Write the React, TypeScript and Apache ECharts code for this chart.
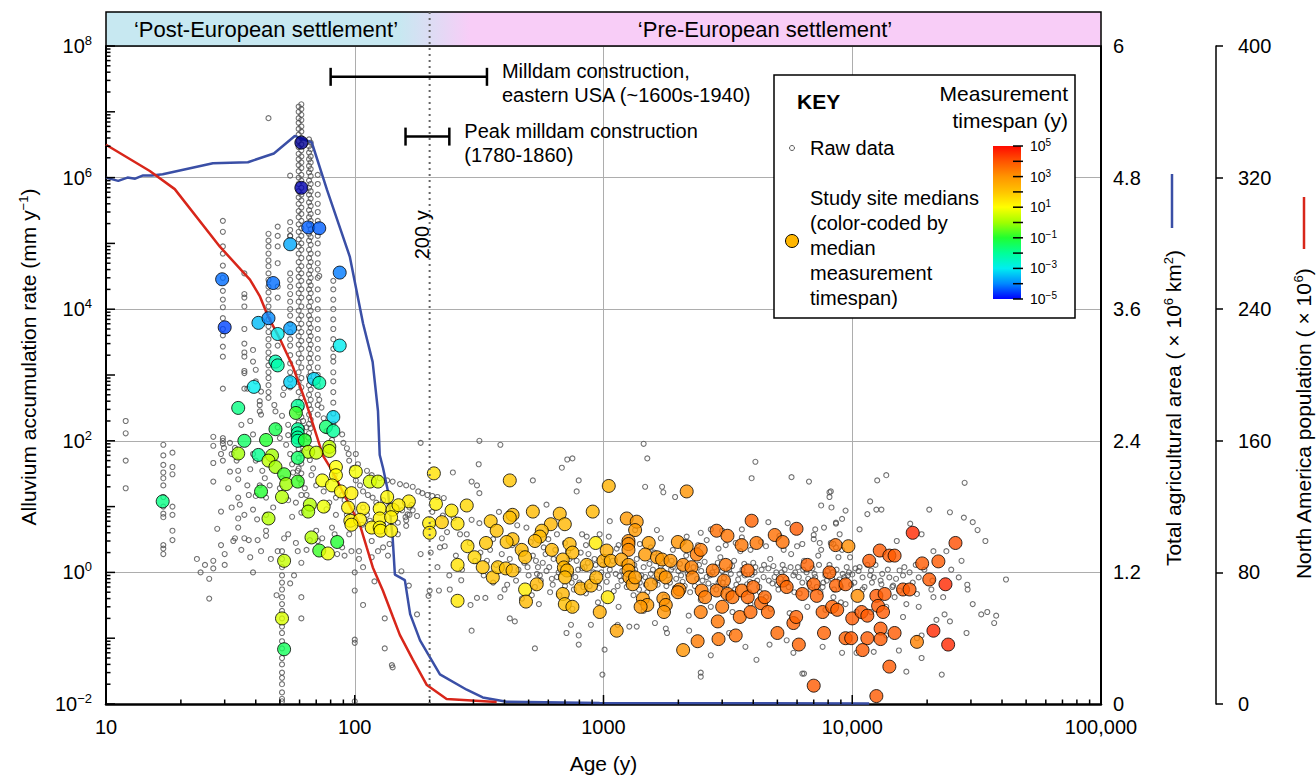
import React, { useEffect, useRef } from 'react';
import * as echarts from 'echarts';

const FONT = "'Liberation Sans', Arial, Helvetica, sans-serif";

// ---------------- axis ticks / labels ----------------
const ageTickValues = [10, 100, 1000, 10000, 100000];
const ageTickLabels = ['10', '100', '1000', '10,000', '100,000'];
const rateLabelExponents = [-2, 0, 2, 4, 6, 8];
const areaTickValues = [0, 1.2, 2.4, 3.6, 4.8, 6];
const populationTickValues = [0, 80, 160, 240, 320, 400];
const timespanLabelExponents = [5, 3, 1, -1, -3, -5];

// ---------------- lines ----------------
const areaAge = [10, 11.2, 12.2, 13.1, 14.1, 15.3, 16.9, 26.9, 37.2, 47.3, 57.4, 67.2, 77.3, 95.5, 108, 118, 124, 126, 130, 136, 142, 145, 159, 167, 183, 220, 282, 327, 408, 965, 11700];
const areaValue = [4.8, 4.77, 4.8, 4.79, 4.82, 4.82, 4.83, 4.93, 4.94, 5.02, 5.18, 5.12, 4.69, 4.08, 3.47, 3.12, 2.67, 2.27, 2.15, 1.94, 1.52, 1.18, 1.13, 0.82, 0.58, 0.27, 0.13, 0.06, 0.02, 0.01, 0.005];
const popAge = [10, 15, 18.9, 28.7, 37.9, 41.5, 44.7, 50, 56.4, 64.1, 70.3, 74.5, 81, 93, 104.8, 111.8, 118.2, 129.7, 142.3, 151.8, 171.2, 194.9, 234, 372];
const popValue = [340, 324, 313, 278, 258, 248, 236, 222, 205, 182, 163, 151, 142, 124, 109, 95, 83, 69, 53, 42, 27, 11.5, 3, 1.2];

// ---------------- annotations ----------------
const milldamFrom = [80, 160];
const milldamTo = [340, 240];
const milldamRate = [3.4e7, 4.2e6];
const milldamLabels = ['Milldam construction,\neastern USA (~1600s-1940)', 'Peak milldam construction\n(1780-1860)'];
const refAge = 200;
const refLabel = '200 y';
const refLabelRate = 1.35e5;

// ---------------- raw data: vertical stacks (age, rates) ----------------
const rawColumns: [number, number[]][] = [
  [12, [200, 130, 50, 19]],
  [17, [87, 60, 43, 33, 27, 21, 14, 10, 7.8, 6.9, 2.6, 2.3, 1.9]],
  [18.5, [66, 40, 31, 10, 7.5, 4.3, 3.1]],
  [29.5, [2.2e5, 1.5e5, 9e4, 7e4, 4.6e4, 3e4, 1.9e4, 1.4e4, 1.07e4, 7.3e3, 5e3, 4e3, 2.7e3, 1.9e3, 620, 110, 90, 50]],
  [36, [3.5e4, 1.7e4, 1.5e4, 1.1e4, 5e3, 3e3, 1.07e3, 620]],
  [45, [1.4e5, 1.1e5, 9e4, 7e4, 5.5e4, 4.5e4, 3.5e4, 2.8e4, 2.2e4, 1.8e4, 1.4e4, 1.1e4, 9e3, 7e3, 5.5e3, 4.5e3, 3.5e3, 2.8e3, 2.2e3, 1.8e3, 1.4e3, 1.1e3, 900, 700, 550, 450]],
  [49, [1.8e5, 1.3e5, 9e4, 5e4, 2.2e4, 1.5e4, 2.8e3]],
  [51, [2.1, 1.6, 1.2, 0.9, 0.7, 0.55, 0.42, 0.33, 0.26, 0.2, 0.15, 0.12, 0.09, 0.07, 0.05, 0.04, 0.03, 0.025, 0.02, 0.015, 0.012, 0.011]],
  [55, [2.1e5, 1.6e5, 1.3e5, 3.5e4, 2.8e4, 2.2e4, 1.7e4, 1.3e4, 1e4, 8e3, 6e3, 4.5e3, 3.5e3, 2.8e3, 2e3, 1.5e3, 1.1e3, 850, 650]],
  [59.5, [1.2e7, 1e7, 8e6, 6.8e6, 5.5e6, 4.5e6, 3.6e6, 2.9e6, 2.3e6, 1.9e6, 1.55e6, 1.25e6, 1e6, 8e5, 6.2e5, 5e5, 4e5, 3.1e5, 2.5e5, 1.95e5, 1.5e5, 1.15e5, 9e4, 7e4, 5.2e4, 4e4, 3.1e4, 2.3e4, 1.75e4, 1.3e4, 9.5e3, 7e3, 5.2e3, 3.9e3, 2.9e3, 2.1e3, 1.55e3, 1.1e3, 780, 550, 380, 270, 190, 140, 105, 75, 55, 38, 27]],
  [61, [1.3e7, 1.1e7, 9e6, 7.5e6, 6e6, 5e6, 4e6, 3.2e6, 2.6e6, 2.1e6, 1.7e6, 1.4e6, 1.1e6, 9e5, 7e5, 5.5e5, 4.5e5, 3.5e5, 2.8e5, 2.2e5, 1.7e5, 1.3e5, 1e5, 8e4, 6e4, 4.5e4, 3.5e4, 2.7e4, 2e4, 1.5e4, 1.1e4, 8e3, 6e3, 4.5e3, 3.3e3, 2.5e3, 1.8e3, 1.3e3, 900, 650, 450, 320, 230, 160, 120, 90, 65, 45, 32, 22]],
  [65.5, [3.8e6, 3e6, 2.4e6, 1.9e6, 1.5e6, 1.2e6, 9e5, 7e5, 5.5e5, 4.2e5, 3.2e5, 2.5e5, 1.9e5, 1.4e5, 1.1e5, 8e4, 6e4, 4.5e4, 3.4e4, 2.6e4, 2e4, 1.5e4, 1.1e4, 8e3, 6e3, 4.5e3, 3.4e3, 2.5e3, 1.8e3, 1.3e3, 950, 700, 500, 350, 250, 180, 130]],
  [66.5, [3.4e6, 2.7e6, 2.1e6, 1.7e6, 1.35e6, 1.05e6, 8e5, 6.2e5, 4.8e5, 3.7e5, 2.8e5, 2.2e5, 1.65e5, 1.25e5, 9.5e4, 7e4, 5.2e4, 3.9e4, 3e4, 2.3e4, 1.75e4, 1.3e4, 9.5e3, 7e3, 5.2e3, 3.9e3, 2.9e3, 2.1e3, 1.55e3, 1.1e3, 820, 600, 420, 300, 210, 155]],
  [71, [1.1e6, 8e5, 5.5e5, 4e5, 3e5, 2.2e5, 1.3e5, 1e5, 7e4, 5e4, 4e4, 3e4, 2e4, 1.4e4, 1e4, 7e3, 5e3, 3.5e3, 2.5e3, 1.8e3, 1.3e3, 1e3, 700, 500, 350, 250]],
  [82, [2.7e4, 2e4, 1.4e4, 1e4, 7e3, 5e3, 3.5e3, 2.5e3, 1.9e3, 1.6e3, 1.1e3, 800, 550, 380, 260, 180]],
  [100, [1.0, 0.53, 0.095, 0.085, 0.011]],
];

// ---------------- raw data: scattered points (age, rate) ----------------
const rawYoung: [number, number][] = [
  [23.2, 1.6], [24, 1.0], [25, 1.3], [26, 0.8], [26, 0.4], [27, 1.5], [27, 1.15], [28, 4.6], [29, 2.6], [30, 1.9], [30, 1.3], [29, 8.4],
  [32.5, 3.0], [33, 3.3], [34, 4.8], [34, 6.6], [35, 2.2], [36, 3.3], [37.5, 3.1], [38, 1.7], [39, 1.0], [40.7, 3.1], [42, 2.1], [44, 4.3],
  [44, 3.6], [46, 1.6], [49, 2.1], [48.5, 0.45], [55, 0.68], [57, 0.9], [61, 0.42], [61, 0.2], [54, 3.8], [52, 3.3], [58, 2.8], [59, 2.1],
  [61, 1.4], [64, 2.2], [66, 3.1], [70, 4.3], [71, 3.0], [74, 3.3], [81, 4.8], [83, 3.8], [85, 1.9], [89, 2.4], [91, 1.8], [95, 3.8],
  [97, 2.1], [104, 1.6], [104, 2.1], [108, 1.2], [108, 0.32], [120, 0.73], [132, 0.2], [132, 0.07], [141, 0.039], [154, 1.04], [165, 0.63],
  [178, 0.23], [184, 1.9], [117, 3.0], [117, 1.7], [124, 2.1], [130, 2.4], [138, 2.7], [136, 1.8], [149, 3.8], [161, 6.2], [160, 6.9],
  [163, 7.6], [171, 8.8], [169, 10.6], [220, 2.4], [142, 0.036],
  [27, 115], [27, 84], [27, 46], [27, 24], [29.5, 100], [29, 63], [34, 35], [34, 26], [35, 175], [36, 1900], [36, 1150], [39, 2400],
  [39, 1600], [40, 1200], [40, 800], [42, 560], [41.5, 350], [42, 250], [38, 200], [39, 125], [39, 63], [38, 37], [37, 21], [37.5, 15],
  [39, 9], [40, 50], [42.5, 35], [44, 13.7], [47, 9.7], [49, 160], [50, 110], [53, 87], [55, 63], [56, 44], [56.5, 33], [54, 12.5], [56, 7],
  [48, 280], [47.5, 350], [51, 240], [51.5, 500], [52, 630], [54, 175], [54, 122], [62, 200], [64, 160], [65, 112], [64, 78], [66, 51],
  [68, 38], [63, 19], [64, 15], [65, 9.7], [72, 420], [73.5, 320], [75, 220], [77, 140], [81, 103], [89, 125], [90, 93], [93, 77],
  [94.5, 63], [95, 50], [98, 38], [101, 63], [103, 44],
  [112, 35], [117, 30], [126, 27], [135, 25], [142, 24], [152, 22], [161, 21], [171, 20], [180, 17], [187, 16], [196, 15], [205, 14.5],
  [215, 14], [228, 13.5],
  [101, 25], [105, 21], [108, 17], [113, 15], [118, 13.7], [122, 11.5], [130, 12.5], [138, 10.7], [147, 9.7], [155, 8.8], [166, 9.7],
  [166, 7.5], [178, 7.2], [108, 9.7], [112, 7.5], [115, 6.1], [107, 5.3], [130, 5.3], [149, 5.7], [161, 5.1], [91, 12.5], [89, 15],
  [84, 13.7], [79, 11.5], [77, 9.1], [84, 7.5], [93, 7.5], [95, 6.1], [83, 30], [75, 17], [70, 21], [67, 30], [59, 35], [60, 26], [61, 15],
  [58, 11.5], [61, 8.1], [51, 27], [50, 19], [45.5, 21], [43.5, 27], [41.5, 21], [40, 14.5], [44, 7.5], [40.5, 6.4], [36, 7.5], [34.5, 10.7],
  [32, 9.7], [31, 19], [31.5, 34], [33.5, 50], [34, 13.7], [29.8, 78], [31.5, 93], [32, 63], [33, 78],
  [45, 8e6], [55, 1.07e6], [55, 1.3e5], [72, 3.2e4], [36, 2200], [37, 620], [41.5, 400], [41.5, 280],
];

const rawOld: [number, number][] = [
  [184, 93], [317, 100], [385, 87], [315, 44], [248, 33], [295, 24], [310, 21], [317, 16], [520, 25], [680, 39], [715, 52], [750, 54],
  [795, 25], [780, 17], [1450, 90], [1500, 54], [1470, 20], [1720, 20], [1740, 16.5], [1940, 14], [4080, 48], [3940, 27], [5700, 28],
  [6700, 24], [7500, 10.4], [8100, 16.5], [8250, 9.7], [8600, 5.7], [9400, 8.7], [1060, 6], [965, 3.8], [5500, 5.6], [7100, 4.5],
  [7700, 4.8], [4600, 5.8], [3600, 4.5], [2700, 4.5], [3000, 4.3], [2460, 4], [2160, 3.5], [1640, 4.4], [1340, 4.4], [856, 3.5], [650, 3.8],
  [820, 3.8], [490, 4.8], [590, 10.7], [450, 5.2], [380, 8.3], [360, 3.2], [317, 5.6], [295, 6.3], [282, 3.8], [265, 3.8], [235, 4.1],
  [224, 3.3], [205, 8.3], [226, 7.3], [250, 6.7], [202, 2], [200, 0.53], [198, 0.44], [218, 0.53], [241, 0.55], [268, 0.76], [292, 0.32],
  [310, 0.41], [295, 0.13], [335, 0.41], [385, 0.42], [420, 0.2], [440, 0.18], [530, 0.07], [710, 0.12], [740, 0.16], [795, 0.11],
  [795, 0.08], [890, 0.16], [990, 0.028], [1010, 0.067], [1140, 0.16], [1270, 0.15], [1360, 0.15], [1610, 0.17], [1780, 0.14], [1800, 0.12],
  [2210, 0.13], [2460, 0.03], [2460, 0.026], [2700, 0.055], [3200, 0.12], [3720, 0.074], [4120, 0.047], [4650, 0.08], [5450, 0.093],
  [5800, 0.06], [6400, 0.029], [7600, 0.074], [9100, 0.06],
  [480, 1.4], [500, 0.9], [520, 1.8], [530, 0.6], [545, 1.2], [560, 0.75], [575, 2.4], [590, 1.05], [610, 0.5], [630, 1.6], [650, 0.85],
  [665, 0.45], [680, 1.3], [700, 0.62], [720, 2.1], [740, 0.95], [760, 0.55], [780, 1.5], [800, 0.7], [820, 1.15], [850, 0.48], [870, 1.9],
  [900, 0.8], [930, 1.3], [960, 0.58], [1000, 1.7], [1030, 0.72], [1060, 1.1], [1100, 0.52], [1130, 2.3], [1160, 0.88], [1200, 1.35],
  [1240, 0.6], [1280, 1.0], [1320, 0.45], [1360, 1.6], [1400, 0.7], [1450, 1.2], [1500, 0.5], [1550, 0.95], [1600, 2.0], [1650, 0.65],
  [1700, 1.25], [1760, 0.42], [1820, 0.9], [1880, 1.5], [1940, 0.58], [2000, 1.05], [2080, 0.72], [2150, 1.8], [2230, 0.5], [2300, 1.2],
  [2380, 0.8], [2460, 0.38], [2550, 1.45], [2640, 0.68], [2740, 1.0], [2840, 0.55], [2950, 1.7], [3050, 0.82], [3170, 0.46], [3290, 1.25],
  [3420, 0.65], [3550, 2.1], [3700, 0.9], [3850, 0.5], [4000, 1.4], [4150, 0.75], [4320, 1.1], [4500, 0.42], [4680, 1.6], [4870, 0.85],
  [5050, 0.55], [5250, 1.3], [5460, 0.7], [5680, 1.9], [5900, 1.0], [6150, 0.48], [6400, 1.5], [6650, 0.8], [6920, 1.15], [7200, 0.6],
  [7500, 2.2], [7800, 0.9], [8100, 1.3], [8450, 0.55], [8800, 1.7], [9150, 0.95], [9500, 1.2], [9900, 0.65],
  [600, 3.2], [700, 2.8], [850, 2.6], [1050, 3.5], [1250, 3.0], [1400, 2.7], [1700, 3.3], [2100, 2.9], [2600, 3.1], [3100, 2.6], [3600, 3.4],
  [4300, 2.9], [5100, 3.6], [6000, 2.5], [7000, 3.2], [8200, 2.8], [550, 0.33], [750, 0.28], [950, 0.35], [1150, 0.3], [1450, 0.26],
  [1800, 0.36], [2200, 0.22], [2700, 0.3], [3300, 0.25], [3900, 0.33], [4700, 0.28], [5600, 0.24], [6600, 0.3], [7800, 0.27], [9000, 0.35],
  [1120, 0.95], [1180, 0.75], [1220, 1.2], [1300, 0.85], [1330, 1.3], [1420, 0.9], [1480, 0.65], [1580, 1.1], [1630, 0.8], [1720, 0.95],
  [1850, 0.7], [1900, 1.2], [2050, 0.9], [2120, 0.62], [2250, 1.0], [2420, 1.3], [2500, 0.75], [2680, 0.9], [2800, 1.2], [2900, 0.7],
  [3000, 1.05], [3120, 0.6], [3250, 0.95], [3350, 1.5], [3480, 0.78], [3620, 1.1], [3780, 0.66], [3950, 0.92], [4080, 1.2], [4230, 0.6],
  [4400, 0.85], [4600, 1.15], [4780, 0.68], [4950, 1.0], [5150, 0.8], [5350, 1.1], [5550, 0.6], [5800, 0.9], [6050, 1.2], [6300, 0.7],
  [6550, 1.0], [6800, 0.55], [7050, 0.95], [7350, 1.3], [7650, 0.7], [7950, 1.05], [8300, 0.8], [8650, 1.1], [9000, 0.6], [9300, 0.85],
  [9700, 1.0], [10200, 0.7], [10600, 1.05], [11200, 0.6], [11800, 0.9], [12400, 1.3], [13000, 0.75], [13900, 1.1], [15000, 0.8],
  [16200, 1.2], [17500, 0.7], [19500, 1.1],
  [320, 2.0], [340, 1.5], [360, 0.7], [390, 1.9], [410, 0.65], [430, 2.6], [455, 1.1], [470, 0.4], [510, 2.9], [540, 0.95], [570, 1.4],
  [620, 0.8], [640, 2.2], [690, 1.0], [730, 1.6], [770, 0.85], [810, 2.0], [840, 1.2], [880, 0.62], [920, 1.6], [980, 1.0],
  [205, 5.5], [215, 1.2], [230, 2.5], [255, 1.8], [270, 1.1], [290, 2.8], [305, 1.5], [240, 0.9],
  [330, 0.9], [350, 2.2], [370, 1.3], [400, 0.55], [420, 1.6], [445, 0.75], [465, 2.0], [495, 1.2], [515, 0.45], [535, 1.5], [555, 0.9],
  [585, 1.9], [605, 1.2], [625, 0.65], [660, 1.0], [710, 1.3], [745, 0.7], [790, 1.1], [830, 0.6], [865, 1.4], [910, 1.0], [950, 0.72],
  [990, 1.3], [1040, 0.9], [1090, 1.5], [1140, 0.62], [1190, 1.05], [1260, 0.78], [1340, 1.1], [1390, 0.55], [1470, 0.85], [1530, 1.35],
  [1610, 0.72], [1680, 1.05], [1790, 0.62], [1870, 1.1], [1960, 0.8], [2030, 1.35], [2180, 0.95], [2330, 0.62], [2470, 1.05], [2600, 0.85],
  [2760, 0.62], [2880, 1.4], [3020, 0.7], [3200, 1.1], [3380, 0.55], [3520, 0.95], [3680, 1.35], [3880, 0.72], [4050, 1.0], [4250, 0.5],
  [4420, 1.3], [4620, 0.75], [4820, 1.25], [5000, 0.65], [5200, 1.0], [5420, 0.8], [5650, 1.2], [5850, 0.5], [6100, 0.85], [6350, 1.1],
  [6700, 0.68], [7100, 0.85], [7450, 0.5], [7900, 0.75], [8350, 1.0], [8900, 0.78], [9600, 0.9], [10300, 1.15], [11000, 0.55], [12000, 0.7],
  [13200, 0.95], [14500, 0.6], [16000, 0.9], [18000, 1.3], [21000, 0.75], [25000, 1.1], [29000, 0.65],
  [1150, 2.6], [1550, 2.4], [1900, 2.2], [2400, 2.6], [2900, 2.3], [3400, 2.8], [3900, 2.2], [4500, 2.5], [5300, 2.2], [6300, 2.7],
  [7300, 1.8], [8600, 2.4],
  [8200, 17], [8100, 14], [9100, 6.5], [8600, 5.5], [12600, 25], [13700, 30], [11800, 12], [12500, 9], [13100, 9], [11500, 7.7],
  [10700, 4.5], [15100, 3], [17100, 5.5], [19000, 3.8], [20400, 9], [24700, 8.2], [28300, 23], [28100, 6.8], [30500, 5.8], [31900, 4.4],
  [34300, 3], [27500, 1.5], [23900, 2.1], [21200, 2.1], [26800, 0.84], [29100, 0.55], [30500, 0.33], [33000, 0.23], [34900, 0.25],
  [37900, 0.22], [37200, 0.17], [41500, 0.78], [28800, 0.12], [22900, 0.028], [19000, 0.05], [16500, 0.031], [15400, 0.065], [13700, 0.11],
  [12200, 0.062], [10400, 0.06], [6300, 0.029], [21200, 0.42], [23200, 0.42], [20800, 0.55], [18500, 0.84], [17000, 1.0], [15500, 1.07],
  [14100, 0.84], [14600, 0.63], [15500, 0.53], [16500, 0.33], [16000, 0.21], [13100, 0.66], [11900, 1.07], [11500, 1.3], [10700, 1.2],
  [10000, 0.93], [11000, 0.84], [12200, 0.84], [9800, 1.7], [9100, 2.2], [8400, 2.7], [7400, 2.8], [7000, 3.7], [8900, 3.8], [7600, 0.6],
  [8400, 0.42], [9400, 0.33], [10400, 0.25], [11900, 0.25], [13700, 0.3], [14800, 0.42], [18200, 0.47], [18500, 0.3], [23500, 0.23],
  [24700, 0.18], [21800, 0.19], [18200, 0.1], [19000, 0.11],
];

// ---------------- study site medians (age, rate, log10 timespan) ----------------
const medians: [number, number, number][] = [
  [61, 3.4e6, -5.8], [61, 7e5, -5.6], [65, 1.75e5, -4.3], [72, 1.7e5, -4.3], [55, 9.7e4, -3.7], [87, 3.6e4, -4.1], [29.3, 2.85e4, -4.2],
  [47, 2.5e4, -4.2], [30, 5.3e3, -4.5], [41, 6.2e3, -3.5], [45, 7.3e3, -4.0], [49, 4.2e3, -3.0], [55, 5.1e3, -3.8], [87, 2.8e3, -3.0],
  [48, 1.6e3, -2.3], [49, 1.4e3, -2.2], [39.3, 660, -3.0], [55, 780, -3.3], [68.5, 870, -3.3], [72, 760, -2.2], [34, 316, -1.8],
  [59, 340, -2.0], [58, 265, -0.8], [82, 230, -3.2], [48, 150, -1.3], [76.6, 163, -1.6], [82, 141, -2.0], [59, 150, -2.0], [59, 130, -2.0],
  [59, 112, -2.0], [59, 100, -2.0], [63, 102, -1.0], [36, 100, -1.5], [44, 103, -1.0], [79, 81, 0.3], [79, 70, 0.5], [34, 64, 0.0],
  [41, 61, -1.9], [46.5, 60, 0.0], [65, 68, 0.2], [70, 66, 0.4], [59, 55, -1.5], [45, 50, 0.3], [48, 40, 0.0], [84, 40, 1.0], [101, 34, 0.9],
  [84, 30, 1.0], [52, 31, -0.8], [115, 24, 0.6], [124, 24, 0.6], [53, 22, 0.0], [59, 24, -0.8], [74, 25, 0.9], [81, 21, 0.9], [88, 17, 1.1],
  [97, 16, 1.2], [42, 17, -1.0], [51, 14, 0.2], [135, 14, 1.1], [165, 12, 1.3], [66, 10.7, 0.2], [65, 8.4, 0.1], [75, 10, 0.8],
  [94, 9.7, 1.2], [108, 9.3, 1.2], [126, 9.3, 1.1], [142, 9, 1.2], [150, 10.5, 1.3], [45, 6.6, 0.2], [96, 6.1, 1.2], [105, 6.3, 1.2],
  [126, 6.6, 1.2], [140, 6.9, 1.2], [16.9, 12, -1.8], [97, 5.3, 1.2], [117, 4.8, 1.2], [126, 4.8, 1.1], [127, 4.3, 1.2], [140, 4.3, 1.2],
  [67, 3.4, 0.2], [72, 2.15, -0.8], [78, 1.94, 0.8], [85, 2.9, -1.0], [52, 1.5, 0.4], [51, 0.2, 0.6], [52, 0.068, -1.4],
  [199, 5.6, 1.3], [200, 4.0, 1.4], [212, 11, 1.3], [208, 32, 1.5], [224, 5.8, 1.9], [420, 25, 2.0], [1050, 20.6, 2.4], [2160, 17, 3.0],
  [245, 8.7, 1.4], [282, 10.4, 1.7], [259, 5.5, 1.5], [520, 8.4, 2.2], [667, 7.8, 2.3], [905, 8.4, 2.3], [431, 7.5, 2.2], [420, 6.8, 2.1],
  [352, 6, 2.0], [614, 5.4, 2.3], [699, 5.4, 2.3], [565, 4.3, 2.2], [555, 3.5, 2.2], [530, 3.0, 2.3], [1240, 6.6, 2.9], [1360, 5.9, 2.9],
  [1340, 4.4, 2.9], [1260, 3.0, 3.1], [1260, 2.7, 3.1], [1260, 2.2, 3.1], [1520, 2.8, 2.8], [1990, 2.9, 3.0], [2160, 2.5, 3.0],
  [2850, 4.3, 3.6], [3150, 3.6, 3.5], [3940, 6.1, 3.8], [5970, 4.6, 3.9], [4880, 3.7, 3.6], [5250, 2.9, 3.6], [3590, 2.6, 3.5],
  [4120, 2.8, 3.5], [8570, 2.6, 3.6], [930, 2.8, 1.3], [731, 2.7, 2.3], [750, 2.0, 2.3], [620, 2.2, 2.3], [469, 2.2, 2.2], [484, 1.7, 2.2],
  [431, 3.2, 2.2], [408, 2.9, 2.1], [372, 4.3, 2.1], [337, 2.8, 2.0], [284, 2.5, 1.6], [303, 1.7, 1.7], [259, 1.3, 1.5], [327, 1.2, 2.0],
  [359, 0.84, 2.1], [376, 1.2, 2.0], [405, 1.15, 2.1], [431, 1.07, 2.2], [484, 0.55, 1.3], [539, 0.66, 2.3], [488, 0.36, 2.2],
  [259, 0.37, 1.4], [686, 1.57, 2.3], [693, 1.19, 2.3], [714, 1.07, 2.3], [700, 0.84, 2.3], [856, 1.3, 2.4], [809, 0.57, 2.4],
  [891, 0.63, 2.4], [935, 0.84, 2.4], [686, 0.47, 2.3], [699, 0.33, 2.1], [750, 0.3, 2.2], [966, 0.25, 2.5], [1040, 0.42, 1.4],
  [1000, 1.5, 2.5], [1030, 2.15, 2.5], [1070, 1.5, 2.5], [1130, 0.13, 2.7], [1180, 1.57, 2.7], [1260, 1.3, 2.8], [1260, 1.07, 2.8],
  [1270, 0.84, 2.8], [1310, 0.66, 2.8], [1340, 0.84, 2.8], [1470, 1.87, 2.9], [1550, 0.66, 2.9], [1440, 0.4, 2.9], [1500, 0.32, 2.9],
  [1410, 0.3, 2.9], [1640, 1.7, 2.9], [1720, 1.57, 2.9], [1700, 0.93, 2.9], [1780, 0.84, 3.0], [1740, 0.4, 3.0], [1780, 0.32, 3.0],
  [1750, 0.25, 3.0], [1860, 1.5, 3.0], [2020, 0.55, 3.2], [1990, 0.5, 3.2], [2090, 1.3, 3.2], [2090, 0.066, 3.0], [2260, 1.2, 3.3],
  [2280, 0.84, 3.3], [2390, 0.09, 3.4], [2460, 0.25, 3.4], [2370, 1.87, 3.4], [2460, 2.2, 3.4], [2480, 0.53, 3.4], [2560, 0.42, 3.4],
  [2750, 1.07, 3.5], [2850, 0.53, 3.5], [2900, 0.097, 3.5], [2880, 0.18, 3.5], [3000, 0.3, 3.5], [3050, 0.75, 3.5], [3100, 1.3, 3.5],
  [3150, 0.47, 3.5], [3300, 0.42, 3.6], [3400, 0.11, 3.6], [3530, 0.21, 3.6], [3600, 0.53, 3.6], [3800, 1.07, 3.7], [3800, 0.42, 3.7],
  [3900, 0.25, 3.7], [4000, 0.6, 3.7], [4300, 0.34, 3.7], [4450, 0.42, 3.7], [4580, 0.25, 3.7], [5000, 0.12, 3.7], [5250, 0.75, 3.7],
  [5450, 0.6, 3.7], [5800, 0.17, 3.8], [6100, 0.08, 3.8], [5950, 0.21, 3.8], [6300, 0.47, 3.8], [6600, 1.3, 3.8], [7000, 0.019, 3.9],
  [7000, 0.66, 3.8], [7200, 0.44, 3.8], [7600, 0.25, 3.8], [7700, 0.12, 3.8], [8100, 1.0, 3.8], [8300, 0.3, 3.8], [8600, 0.63, 3.8],
  [8700, 0.27, 3.8], [9400, 0.1, 3.8], [9400, 0.66, 3.8], [9650, 2.5, 3.1], [10500, 0.44, 3.1], [12900, 2.15, 3.9], [11700, 1.5, 3.9],
  [14100, 1.8, 3.9], [14800, 1.8, 3.9], [17500, 4.0, 4.6], [26000, 2.8, 4.1], [19100, 1.37, 3.9], [22200, 1.47, 3.9], [20400, 0.78, 3.9],
  [23700, 0.66, 4.6], [16000, 0.55, 3.9], [17000, 0.55, 3.9], [12500, 0.44, 3.9], [13500, 0.47, 3.9], [12700, 0.31, 3.9], [13300, 0.25, 3.9],
  [13000, 0.14, 3.9], [14800, 0.12, 3.9], [13000, 0.097, 3.9], [10000, 0.2, 3.9], [9900, 0.1, 3.9], [11500, 0.1, 3.9], [11000, 0.066, 3.9],
  [14100, 0.037, 3.9], [18200, 0.088, 3.3], [21200, 0.13, 4.6], [24300, 0.08, 4.6], [12500, 0.0132, 3.9], [10900, 0.25, 3.9], [11500, 0.22, 3.9],
];

// ---------------- colour map (log10 timespan -> colour) ----------------
const CMAP: [number, string][] = [
  [-6, '#00007a'], [-5, '#0000ff'], [-4, '#0088ff'], [-3, '#00eef0'], [-2, '#00ff98'], [-1, '#20ff30'],
  [0, '#a0ff00'], [1, '#ffff00'], [2, '#ffc400'], [3, '#ff9400'], [4, '#ff5400'], [5, '#ff0a00'],
];
function hexRgb(h: string) {
  return [parseInt(h.slice(1, 3), 16), parseInt(h.slice(3, 5), 16), parseInt(h.slice(5, 7), 16)];
}
function timespanColor(t: number) {
  if (t <= CMAP[0][0]) return CMAP[0][1];
  if (t >= CMAP[CMAP.length - 1][0]) return CMAP[CMAP.length - 1][1];
  for (let i = 0; i < CMAP.length - 1; i++) {
    const [t0, c0] = CMAP[i];
    const [t1, c1] = CMAP[i + 1];
    if (t >= t0 && t <= t1) {
      const f = (t - t0) / (t1 - t0);
      const a = hexRgb(c0), b = hexRgb(c1);
      const c = a.map((v, k) => Math.round(v + (b[k] - v) * f));
      return `rgb(${c[0]},${c[1]},${c[2]})`;
    }
  }
  return '#000';
}

const supExp = (v: number) => (v < 0 ? '\u2212' + Math.abs(v) : String(v));

function buildOption() {
  const L = Math.log10;
  const rawPoints: number[][] = [];
  rawColumns.forEach(([age, rates]) => rates.forEach((r) => rawPoints.push([age, L(r)])));
  rawYoung.forEach(([a, r]) => rawPoints.push([a, L(r)]));
  rawOld.forEach(([a, r]) => rawPoints.push([a, L(r)]));

  const medianPoints = medians.map(([a, r, t]) => ({ value: [a, L(r)], itemStyle: { color: timespanColor(t) } }));

  // tick marks: [x, y, axis (0 = left, 1 = bottom), major]
  const tickItems: number[][] = [];
  for (let e = rateLabelExponents[0]; e <= rateLabelExponents[rateLabelExponents.length - 1]; e++) {
    tickItems.push([ageTickValues[0], e, 0, 1]);
    if (e < 8) for (let k = 2; k <= 9; k++) tickItems.push([ageTickValues[0], e + L(k), 0, 0]);
  }
  ageTickValues.forEach((v, i) => {
    tickItems.push([v, rateLabelExponents[0], 1, 1]);
    if (i < ageTickValues.length - 1) for (let k = 2; k <= 9; k++) tickItems.push([v * k, rateLabelExponents[0], 1, 0]);
  });

  // colour bar (gradient stops must be in ascending offset order)
  const cbX = 993, cbY = 146, cbW = 28, cbH = 153;
  const cbStops = CMAP.filter((s) => s[0] >= -5)
    .map(([t, c]) => ({ offset: (5 - t) / 10, color: c }))
    .sort((a, b) => a.offset - b.offset);
  const cbGraphics: any[] = [
    { type: 'rect', shape: { x: cbX, y: cbY, width: cbW, height: cbH }, style: { fill: new echarts.graphic.LinearGradient(0, 0, 0, 1, cbStops) }, z: 101 },
  ];
  for (let e = 5; e >= -5; e--) {
    const y = cbY + ((5 - e) / 10) * cbH;
    cbGraphics.push({ type: 'line', shape: { x1: cbX + 20, y1: y, x2: cbX + 30, y2: y }, style: { stroke: '#000', lineWidth: 1.5 }, z: 102 });
  }
  timespanLabelExponents.forEach((e) => {
    const y = cbY + ((5 - e) / 10) * cbH;
    cbGraphics.push({
      type: 'text', x: cbX + 37, y, z: 102,
      style: {
        text: `{b|10}{s|${supExp(e)}}`, align: 'left', verticalAlign: 'middle',
        rich: { b: { fontSize: 14, fontFamily: FONT, fill: '#000' }, s: { fontSize: 10, fontFamily: FONT, fill: '#000', padding: [0, 0, 7, 0] } },
      },
    });
  });

  return {
    animation: false,
    textStyle: { fontFamily: FONT },
    grid: { left: 106, right: 215, top: 46, bottom: 72 },
    xAxis: {
      type: 'log', logBase: 10, min: 10, max: 100000,
      name: 'Age (y)', nameLocation: 'middle', nameGap: 49,
      nameTextStyle: { fontSize: 21, color: '#000', fontFamily: FONT },
      axisLine: { onZero: false, lineStyle: { color: '#000', width: 2.5 } },
      axisTick: { show: false },
      axisLabel: {
        fontSize: 20, color: '#000', margin: 13, fontFamily: FONT,
        formatter: (v: number) => {
          const i = ageTickValues.indexOf(Math.round(v));
          return i >= 0 ? ageTickLabels[i] : '';
        },
      },
      splitLine: { show: true, lineStyle: { color: '#adadad', width: 1 } },
    },
    yAxis: [
      {
        type: 'value', min: -2, max: 8, interval: 2, position: 'left',
        axisLine: { show: true, onZero: false, lineStyle: { color: '#000', width: 2 } },
        axisTick: { show: false },
        axisLabel: {
          margin: 14, color: '#000',
          formatter: (v: number) => `{b|10}{s|${supExp(Math.round(v))}}`,
          rich: { b: { fontSize: 20, fontFamily: FONT, color: '#000' }, s: { fontSize: 13, fontFamily: FONT, color: '#000', padding: [0, 0, 11, 0] } },
        },
        splitLine: { show: true, lineStyle: { color: '#adadad', width: 1 } },
      },
      {
        type: 'value', min: areaTickValues[0], max: areaTickValues[areaTickValues.length - 1], interval: areaTickValues[1], position: 'right',
        axisLine: { show: true, onZero: false, lineStyle: { color: '#000', width: 2 } },
        axisTick: { show: false },
        axisLabel: {
          fontSize: 20, color: '#000', margin: 12, fontFamily: FONT,
          formatter: (v: number) => (Math.abs(v - Math.round(v)) < 1e-6 ? String(Math.round(v)) : v.toFixed(1)),
        },
        splitLine: { show: false },
      },
      {
        type: 'value', min: populationTickValues[0], max: populationTickValues[populationTickValues.length - 1], interval: populationTickValues[1],
        position: 'right', offset: 115,
        axisLine: { show: true, onZero: false, lineStyle: { color: '#000', width: 1.5 } },
        axisTick: { show: true, inside: false, length: 7, lineStyle: { color: '#000', width: 1.5 } },
        axisLabel: { fontSize: 20, color: '#000', margin: 22, fontFamily: FONT },
        splitLine: { show: false },
      },
    ],
    series: [
      {
        type: 'scatter', name: 'Raw data', xAxisIndex: 0, yAxisIndex: 0, data: rawPoints, symbol: 'circle', symbolSize: 5,
        itemStyle: { color: 'rgba(255,255,255,0)', borderColor: '#4d4d4d', borderWidth: 1.1 }, z: 2, silent: true,
      },
      {
        type: 'line', name: 'Total agricultural area', xAxisIndex: 0, yAxisIndex: 1,
        data: areaAge.map((a, i) => [a, areaValue[i]]), symbol: 'none', showSymbol: false,
        lineStyle: { color: '#3a4fa6', width: 2.5 }, z: 3, silent: true,
      },
      {
        type: 'line', name: 'North America population', xAxisIndex: 0, yAxisIndex: 2,
        data: popAge.map((a, i) => [a, popValue[i]]), symbol: 'none', showSymbol: false,
        lineStyle: { color: '#d8261a', width: 2.5 }, z: 3, silent: true,
      },
      {
        type: 'scatter', name: 'Study site medians', xAxisIndex: 0, yAxisIndex: 0, data: medianPoints, symbol: 'circle', symbolSize: 13,
        itemStyle: { borderColor: '#000', borderWidth: 1 }, z: 4, silent: true,
      },
      {
        type: 'custom', name: 'ticks', xAxisIndex: 0, yAxisIndex: 0, data: tickItems, clip: false, silent: true, z: 6,
        encode: { x: 0, y: 1 },
        renderItem: (params: any, api: any) => {
          const p = api.coord([api.value(0), api.value(1)]);
          const len = api.value(3) ? 9 : 4.5;
          const shape = api.value(2) === 0
            ? { x1: p[0], y1: p[1], x2: p[0] + len, y2: p[1] }
            : { x1: p[0], y1: p[1], x2: p[0], y2: p[1] - len };
          return { type: 'line', shape, style: { stroke: '#000', lineWidth: 1.5 } };
        },
      },
      {
        type: 'custom', name: 'milldam', xAxisIndex: 0, yAxisIndex: 0, clip: false, silent: true, z: 6,
        data: milldamFrom.map((f, i) => [f, Math.log10(milldamRate[i]), milldamTo[i], i]),
        encode: { x: [0, 2], y: 1 },
        renderItem: (params: any, api: any) => {
          const a = api.coord([api.value(0), api.value(1)]);
          const b = api.coord([api.value(2), api.value(1)]);
          const cap = 9;
          const st = { stroke: '#000', lineWidth: 2.5 };
          return {
            type: 'group',
            children: [
              { type: 'line', shape: { x1: a[0], y1: a[1], x2: b[0], y2: b[1] }, style: st },
              { type: 'line', shape: { x1: a[0], y1: a[1] - cap, x2: a[0], y2: a[1] + cap }, style: st },
              { type: 'line', shape: { x1: b[0], y1: b[1] - cap, x2: b[0], y2: b[1] + cap }, style: st },
              {
                type: 'text', x: b[0] + 15, y: a[1] + 6,
                style: { text: milldamLabels[api.value(3)], fill: '#000', font: `20px ${FONT}`, align: 'left', verticalAlign: 'middle', lineHeight: 24 },
              },
            ],
          };
        },
      },
      {
        type: 'custom', name: 'reference', xAxisIndex: 0, yAxisIndex: 0, clip: false, silent: true, z: 6,
        data: [[refAge, Math.log10(refLabelRate)]],
        encode: { x: 0, y: 1 },
        renderItem: (params: any, api: any) => {
          const bottom = api.coord([api.value(0), -2]);
          const top = api.coord([api.value(0), 8]);
          const lab = api.coord([api.value(0), api.value(1)]);
          return {
            type: 'group',
            children: [
              { type: 'line', shape: { x1: bottom[0], y1: bottom[1], x2: top[0], y2: top[1] - 34 }, style: { stroke: '#666', lineWidth: 2, lineDash: [2, 4] } },
              { type: 'text', x: lab[0] - 8, y: lab[1], rotation: Math.PI / 2, style: { text: refLabel, fill: '#000', font: `20px ${FONT}`, align: 'center', verticalAlign: 'middle' } },
            ],
          };
        },
      },
    ],
    graphic: [
      {
        type: 'rect', shape: { x: 106, y: 12, width: 995, height: 34 }, z: 1,
        style: {
          fill: new echarts.graphic.LinearGradient(0, 0, 1, 0, [
            { offset: 0, color: '#c7e8f1' }, { offset: 0.295, color: '#c7e8f1' },
            { offset: 0.366, color: '#f8cdf7' }, { offset: 1, color: '#f8cdf7' },
          ]),
          stroke: '#000', lineWidth: 1.5,
        },
      },
      { type: 'text', x: 266, y: 29, z: 2, style: { text: '\u2018Post-European settlement\u2019', font: `22px ${FONT}`, fill: '#000', align: 'center', verticalAlign: 'middle' } },
      { type: 'text', x: 765, y: 29, z: 2, style: { text: '\u2018Pre-European settlement\u2019', font: `22px ${FONT}`, fill: '#000', align: 'center', verticalAlign: 'middle' } },
      // axis names
      {
        type: 'text', x: 28, y: 357, rotation: Math.PI / 2, z: 2,
        style: {
          text: 'Alluvium accumulation rate (mm y{s|\u22121})', font: `21px ${FONT}`, fill: '#000', align: 'center', verticalAlign: 'middle',
          rich: { s: { fontSize: 13, fontFamily: FONT, fill: '#000', padding: [0, 0, 10, 0] } },
        },
      },
      {
        type: 'text', x: 1173, y: 408, rotation: Math.PI / 2, z: 2,
        style: {
          text: 'Total agricultural area ( \u00d7 10{s|6} km{s|2})', font: `21px ${FONT}`, fill: '#000', align: 'center', verticalAlign: 'middle',
          rich: { s: { fontSize: 13, fontFamily: FONT, fill: '#000', padding: [0, 0, 10, 0] } },
        },
      },
      { type: 'line', shape: { x1: 1172, y1: 174, x2: 1172, y2: 228 }, style: { stroke: '#3a4fa6', lineWidth: 2.5 }, z: 2 },
      {
        type: 'text', x: 1303, y: 424, rotation: Math.PI / 2, z: 2,
        style: {
          text: 'North America population ( \u00d7 10{s|6})', font: `21px ${FONT}`, fill: '#000', align: 'center', verticalAlign: 'middle',
          rich: { s: { fontSize: 13, fontFamily: FONT, fill: '#000', padding: [0, 0, 10, 0] } },
        },
      },
      { type: 'line', shape: { x1: 1304, y1: 197, x2: 1304, y2: 249 }, style: { stroke: '#d8261a', lineWidth: 2.5 }, z: 2 },
      // key box
      { type: 'rect', shape: { x: 774, y: 75, width: 301, height: 243 }, style: { fill: '#fff', stroke: '#000', lineWidth: 1.5 }, z: 100 },
      { type: 'text', x: 797, y: 101, z: 101, style: { text: 'KEY', font: `bold 21px ${FONT}`, fill: '#000', align: 'left', verticalAlign: 'middle' } },
      { type: 'circle', shape: { cx: 792, cy: 148, r: 2.5 }, style: { fill: '#fff', stroke: '#5a5a5a', lineWidth: 1 }, z: 101 },
      { type: 'text', x: 810, y: 148, z: 101, style: { text: 'Raw data', font: `20px ${FONT}`, fill: '#000', align: 'left', verticalAlign: 'middle' } },
      { type: 'circle', shape: { cx: 792, cy: 241, r: 6.5 }, style: { fill: timespanColor(2.3), stroke: '#000', lineWidth: 1 }, z: 101 },
      {
        type: 'text', x: 810, y: 185, z: 101,
        style: { text: 'Study site medians\n(color-coded by\nmedian\nmeasurement\ntimespan)', font: `20px ${FONT}`, fill: '#000', align: 'left', verticalAlign: 'top', lineHeight: 25 },
      },
      {
        type: 'text', x: 1068, y: 80, z: 101,
        style: { text: 'Measurement\ntimespan (y)', font: `21px ${FONT}`, fill: '#000', align: 'right', verticalAlign: 'top', lineHeight: 27 },
      },
      ...cbGraphics,
    ],
  };
}

export default function App() {
  const ref = useRef<HTMLDivElement>(null);
  useEffect(() => {
    document.body.style.margin = '0';
    if (!ref.current) return;
    const chart = echarts.init(ref.current, undefined, { renderer: 'svg' });
    chart.setOption(buildOption() as any);
    return () => chart.dispose();
  }, []);
  return <div ref={ref} style={{ width: 1316, height: 779 }} />;
}
